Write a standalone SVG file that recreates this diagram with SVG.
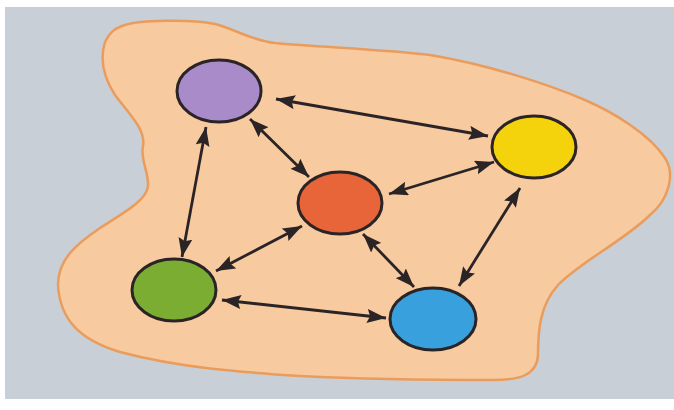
<svg xmlns="http://www.w3.org/2000/svg" width="674" height="410" viewBox="0 0 674 410">
<style>
.node{stroke:#2b2426;stroke-width:3}
.edge{stroke:#2b2426;stroke-width:2.8;fill:none;marker-start:url(#ah);marker-end:url(#ah)}
</style>
<defs>
<marker id="ah" viewBox="0 0 19 14" refX="19" refY="7" markerWidth="19" markerHeight="14" markerUnits="userSpaceOnUse" orient="auto-start-reverse">
<path d="M0,0 L19,7 L0,14 L3,7 z" fill="#2b2426"/>
</marker>
</defs>
<rect x="0" y="0" width="674" height="410" fill="#ffffff"/>
<rect x="5" y="7" width="669" height="392" fill="#c8cfd7"/>
<path id="blob" d="M125,25 C140,20 190,19 215,24 C235,29 250,40 275,43 C320,47 390,50 430,55 C490,65 550,85 585,100 C615,113 650,135 665,158 C676,175 668,200 650,215 C625,240 580,262 558,285 C540,305 538,330 538,355 C537,375 520,380 494,380 C440,380 360,379 300,376 C240,372 180,368 120,352 C80,340 60,320 58,285 C58,260 75,245 100,228 C125,212 147,200 148,186 C149,172 140,160 143,146 C146,130 130,115 115,95 C102,75 100,58 105,42 C110,32 115,28 125,25 Z" fill="#f8caa0" stroke="#ea9c5c" stroke-width="2.5"/>
<g id="connectors">
<line class="edge" x1="276" y1="99" x2="488" y2="136"/>
<line class="edge" x1="250" y1="119" x2="309" y2="177"/>
<line class="edge" x1="206" y1="127" x2="182" y2="257"/>
<line class="edge" x1="389" y1="194" x2="494" y2="162"/>
<line class="edge" x1="302" y1="226" x2="216" y2="271"/>
<line class="edge" x1="363" y1="234" x2="414" y2="287"/>
<line class="edge" x1="520" y1="188" x2="459" y2="286"/>
<line class="edge" x1="222" y1="300" x2="386" y2="318"/>
</g>
<g id="purple"><ellipse class="node" cx="219" cy="91" rx="42" ry="31" fill="#a98bca"/></g>
<g id="yellow"><ellipse class="node" cx="534" cy="147" rx="42" ry="31" fill="#f5d30c"/></g>
<g id="red"><ellipse class="node" cx="340" cy="203" rx="42" ry="31" fill="#e8653a"/></g>
<g id="green"><ellipse class="node" cx="174" cy="290" rx="42" ry="31" fill="#7cad33"/></g>
<g id="blue"><ellipse class="node" cx="433" cy="319" rx="43" ry="31" fill="#38a0dd"/></g>
</svg>
